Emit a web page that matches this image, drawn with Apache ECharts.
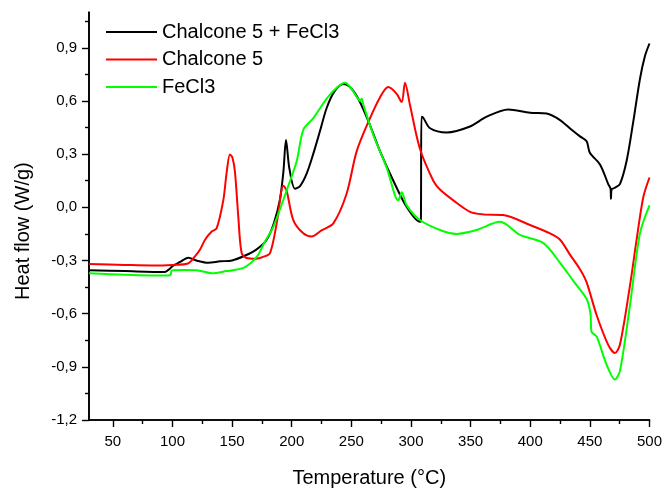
<!DOCTYPE html>
<html>
<head>
<meta charset="utf-8">
<script src="https://cdn.jsdelivr.net/npm/echarts@6/dist/echarts.min.js"></script>
<style>html,body{margin:0;padding:0;background:#fff}#c{width:665px;height:493px}</style>
</head>
<body>
<div id="c"></div>
<script>
// Tick values
const xMajorTicks = [50,100,150,200,250,300,350,400,450,500];
const xMinorTicks = [75,125,175,225,275,325,375,425,475];
const yMajorTicks = [-1.2,-0.9,-0.6,-0.3,0,0.3,0.6,0.9];
const yMinorTicks = [-1.05,-0.75,-0.45,-0.15,0.15,0.45,0.75,1.05];

// Chalcone 5 + FeCl3 (black)
const blackT = [30,60,93.7,98,100,106,113.3,120,130,140,150,160,170,179,185,190,193,195.2,198,202.7,207,212.5,218,223.7,229.3,236,243.3,250,257.2,265.6,274,285.2,296.4,307.5,308.3,308.8,310.3,316,330,349.5,363.5,381.6,399.8,413.8,425,434.7,441.7,447.3,450,458.5,465.4,467.4,467.7,468.2,471,475.2,480.8,486.4,492,496.2,500];
const blackV = [-0.355,-0.36,-0.365,-0.345,-0.332,-0.31,-0.285,-0.3,-0.313,-0.305,-0.3,-0.275,-0.24,-0.183,-0.09,0.04,0.2,0.38,0.22,0.105,0.12,0.19,0.3,0.43,0.56,0.655,0.695,0.67,0.594,0.464,0.317,0.15,0.002,-0.082,-0.08,0.511,0.505,0.446,0.422,0.456,0.511,0.552,0.533,0.529,0.492,0.437,0.4,0.372,0.307,0.242,0.131,0.103,0.048,0.1,0.11,0.131,0.261,0.483,0.724,0.853,0.924];

// Chalcone 5 (red)
const redT = [30,60,82.6,100,113,119,123,127.3,132.9,137,142.6,145.5,148.2,150.3,152.4,155.2,158,162.2,170,176,181.8,187.4,193,195.7,201.3,209.7,216.7,225,234.9,246,254.5,265.6,274,281,288,292.2,295,299.2,307.5,318.7,324.3,335.5,349.5,360,377.4,399.8,416.6,425,433.3,441.7,447.3,455.7,465.4,471,475.2,483.6,489.2,494.8,500];
const redV = [-0.32,-0.325,-0.328,-0.325,-0.317,-0.276,-0.24,-0.183,-0.137,-0.119,0.039,0.2,0.298,0.28,0.2,-0.054,-0.258,-0.286,-0.29,-0.28,-0.258,-0.091,0.122,0.094,-0.072,-0.147,-0.165,-0.13,-0.091,0.076,0.317,0.502,0.62,0.678,0.64,0.594,0.702,0.576,0.33,0.15,0.1,0.039,-0.026,-0.04,-0.044,-0.1,-0.147,-0.183,-0.267,-0.35,-0.424,-0.609,-0.776,-0.822,-0.776,-0.443,-0.183,0.057,0.168];

// FeCl3 (green)
const greenT = [30,60,96.5,98.5,99.5,110,121.7,132.9,145,160,170.6,177,184.6,195.7,204.2,209.7,218,229.3,237,244.6,250,254.5,257.5,258.7,260,268.4,279.6,289.4,292.2,296.4,307.5,324.3,338.3,355,374.6,391.4,411,425,436.1,447.3,450.5,451.4,455.7,464,471,475.2,483.6,492,500];
const greenV = [-0.372,-0.38,-0.385,-0.38,-0.356,-0.354,-0.356,-0.372,-0.36,-0.34,-0.28,-0.2,-0.109,0.094,0.261,0.437,0.502,0.613,0.67,0.702,0.67,0.622,0.6,0.613,0.58,0.409,0.224,0.039,0.085,0.011,-0.072,-0.128,-0.15,-0.128,-0.082,-0.156,-0.202,-0.313,-0.415,-0.517,-0.6,-0.702,-0.73,-0.887,-0.971,-0.924,-0.554,-0.147,0.011];

const seriesNames = ['Chalcone 5 + FeCl3','Chalcone 5','FeCl3'];
const seriesColors = ['#000000','#ff0000','#00ff00'];

function pairs(t, v){ return t.map((x,i)=>[x, v[i]]); }

const FONT = 'Liberation Sans, Arial, sans-serif';
const chart = echarts.init(document.getElementById('c'));
const axisBase = {
  axisLine:{show:true,onZero:false,lineStyle:{color:'#000',width:1.6}},
  splitLine:{show:false}
};
chart.setOption({
  animation:false,
  backgroundColor:'#fff',
  grid:{left:89,right:15,top:12.3,bottom:67.3,containLabel:false},
  legend:{
    left:101, top:17, orient:'vertical',
    icon:'rect', itemWidth:51, itemHeight:2.2, itemGap:7.5,
    textStyle:{fontFamily:FONT,fontSize:20,color:'#000',lineHeight:20},
    data:seriesNames
  },
  xAxis:[
    Object.assign({}, axisBase, {
      type:'value', min:30, max:500,
      name:'Temperature (°C)', nameLocation:'middle', nameGap:48,
      nameTextStyle:{fontFamily:FONT,fontSize:20,color:'#000'},
      axisTick:{show:true,inside:false,length:7,lineStyle:{color:'#000',width:1.4},customValues:xMajorTicks},
      axisLabel:{show:true,margin:14,fontFamily:FONT,fontSize:15,color:'#000',customValues:xMajorTicks}
    }),
    Object.assign({}, axisBase, {
      type:'value', min:30, max:500, position:'bottom',
      axisTick:{show:true,inside:false,length:4,lineStyle:{color:'#000',width:1.4},customValues:xMinorTicks},
      axisLabel:{show:false}
    })
  ],
  yAxis:[
    Object.assign({}, axisBase, {
      type:'value', min:-1.2, max:1.1,
      name:'Heat flow (W/g)', nameLocation:'middle', nameGap:56,
      nameTextStyle:{fontFamily:FONT,fontSize:20,color:'#000',padding:[0,30,0,0]},
      axisTick:{show:true,inside:false,length:7,lineStyle:{color:'#000',width:1.4},customValues:yMajorTicks},
      axisLabel:{show:true,margin:12,fontFamily:FONT,fontSize:15,color:'#000',customValues:yMajorTicks,
        formatter:v=>v.toFixed(1).replace('.',',')}
    }),
    Object.assign({}, axisBase, {
      type:'value', min:-1.2, max:1.1, position:'left',
      axisTick:{show:true,inside:false,length:4,lineStyle:{color:'#000',width:1.4},customValues:yMinorTicks},
      axisLabel:{show:false}
    })
  ],
  series:[
    {name:seriesNames[0],type:'line',data:pairs(blackT,blackV),symbol:'none',smooth:0.3,
      lineStyle:{color:seriesColors[0],width:2},itemStyle:{color:seriesColors[0]}},
    {name:seriesNames[1],type:'line',data:pairs(redT,redV),symbol:'none',smooth:0.3,
      lineStyle:{color:seriesColors[1],width:2},itemStyle:{color:seriesColors[1]}},
    {name:seriesNames[2],type:'line',data:pairs(greenT,greenV),symbol:'none',smooth:0.3,
      lineStyle:{color:seriesColors[2],width:2},itemStyle:{color:seriesColors[2]}}
  ]
});
</script>
</body>
</html>
